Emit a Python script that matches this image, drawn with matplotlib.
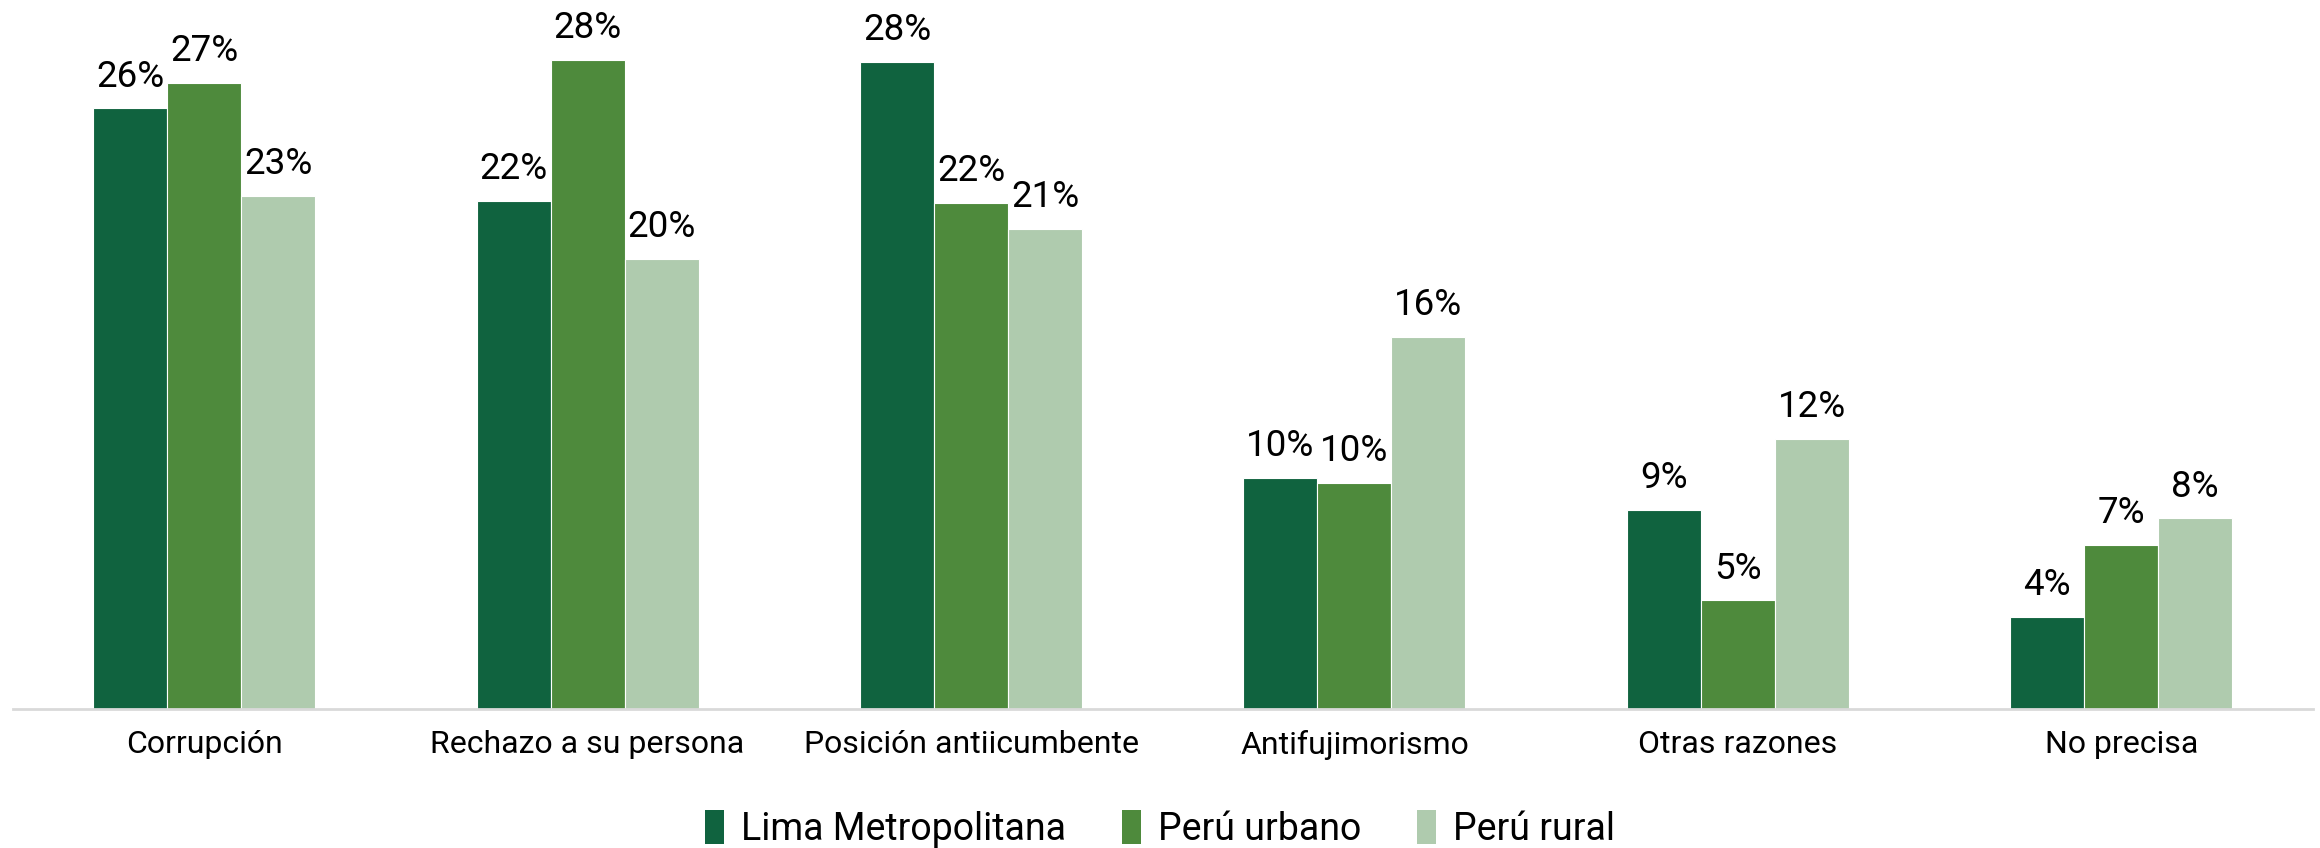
import matplotlib
matplotlib.use("Agg")
import matplotlib.pyplot as plt
import numpy as np

plt.rcParams['font.family'] = ['Roboto', 'DejaVu Sans']

categories = ["Corrupción", "Rechazo a su persona", "Posición antiicumbente",
              "Antifujimorismo", "Otras razones", "No precisa"]
series_names = ["Lima Metropolitana", "Perú urbano", "Perú rural"]
lima = [26.0, 22.0, 28.0, 10.0, 8.6, 4.0]
urbano = [27.1, 28.1, 21.9, 9.8, 4.7, 7.1]
rural = [22.2, 19.5, 20.8, 16.1, 11.7, 8.25]
lima_labels = ["26%", "22%", "28%", "10%", "9%", "4%"]
urbano_labels = ["27%", "28%", "22%", "10%", "5%", "7%"]
rural_labels = ["23%", "20%", "21%", "16%", "12%", "8%"]
colors = ["#10633F", "#4E8A3C", "#AFCBAE"]

fig = plt.figure(figsize=(23.2, 8.48), dpi=100)
ax = fig.add_axes([12.5 / 2320, 1 - 709 / 848, (2313 - 12.5) / 2320, 693 / 848])

x = np.arange(len(categories))
w = 74 / 383.5
for i, (vals, labs, col, name) in enumerate(zip([lima, urbano, rural],
                                               [lima_labels, urbano_labels, rural_labels],
                                               colors, series_names)):
    bars = ax.bar(x + (i - 1) * w, vals, width=w, color=col, edgecolor='white',
                  linewidth=0.8, label=name, zorder=2)
    for b, lab in zip(bars, labs):
        ax.annotate(lab, (b.get_x() + b.get_width() / 2, b.get_height()),
                    xytext=(0, 10), textcoords='offset points',
                    ha='center', va='bottom', fontsize=26.5, color='black')

ax.set_xlim(-0.5, len(categories) - 0.5)
ax.set_ylim(0, 30)
ax.set_yticks([])
ax.set_xticks(x)
ax.set_xticklabels(categories, fontsize=23)
ax.tick_params(axis='x', length=0, pad=15)
for s in ['top', 'right', 'left']:
    ax.spines[s].set_visible(False)
ax.spines['bottom'].set_color('#D9D9D9')
ax.spines['bottom'].set_linewidth(2)
ax.spines['bottom'].set_zorder(3)

leg = fig.legend(loc='center', bbox_to_anchor=(0.5, 1 - 829 / 848), ncol=3,
                 frameon=False, fontsize=27, handlelength=0.5, handleheight=1.0,
                 handletextpad=0.45, columnspacing=1.5)
for h in leg.legend_handles:
    h.set_edgecolor('none')

fig.savefig("out.png", dpi=100, facecolor='white')
